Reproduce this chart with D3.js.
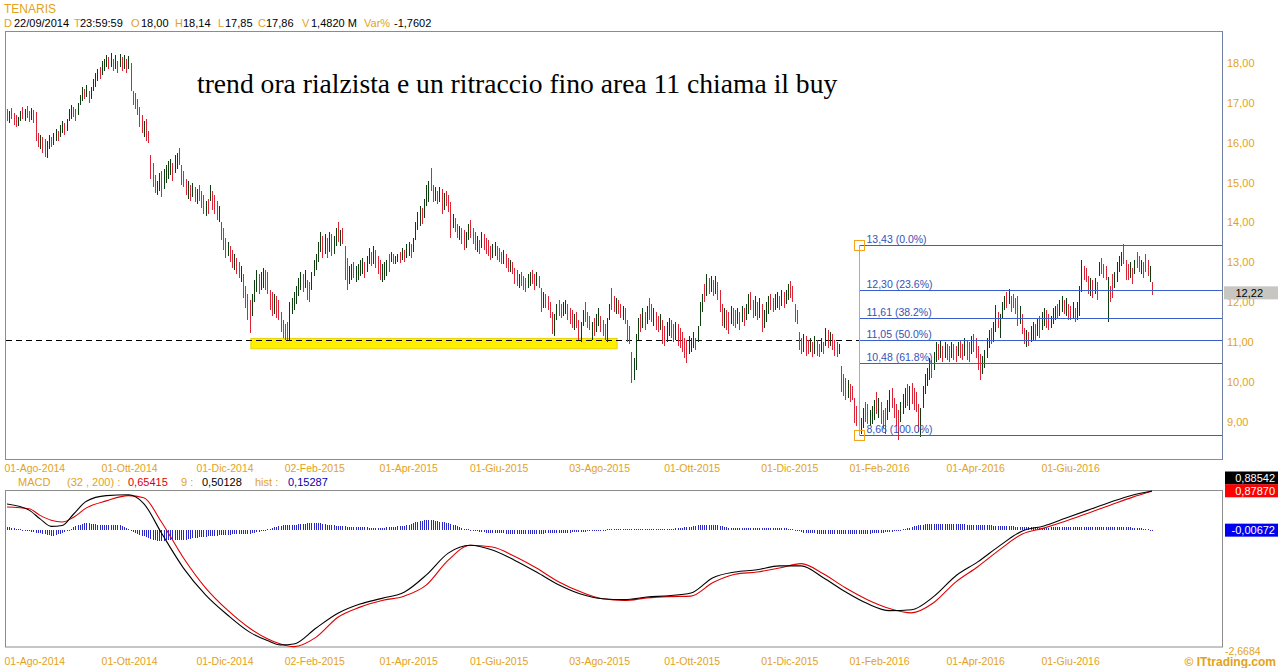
<!DOCTYPE html>
<html><head><meta charset="utf-8">
<script src="https://cdn.jsdelivr.net/npm/d3@7"></script>
<style>
body{margin:0;background:#fff;}
svg{display:block;font-family:"Liberation Sans",Arial,sans-serif;}
</style>
</head><body>
<svg id="c" width="1278" height="668"></svg>
<script>
// ---------------- DATA ----------------
const title = "TENARIS";
const hi = [
16.85,16.80,16.88,16.75,16.70,16.65,16.80,16.90,16.85,16.92,
16.80,16.88,16.82,16.78,16.25,16.20,16.15,16.10,16.05,16.20,
16.15,16.25,16.35,16.30,16.45,16.55,16.50,16.60,16.85,16.95,
16.90,16.85,17.00,17.20,17.40,17.35,17.45,17.30,17.40,17.60,
17.75,17.85,17.90,18.05,18.10,18.20,18.15,18.25,18.10,18.20,
18.05,18.22,18.15,18.20,18.10,18.18,18.00,17.30,17.25,17.10,
16.90,16.70,16.55,16.60,16.30,15.70,15.50,15.20,15.05,15.25,
15.30,15.35,15.45,15.55,15.60,15.50,15.70,15.75,15.87,15.45,
15.30,15.10,15.05,14.95,15.00,14.90,14.85,14.95,14.80,14.70,
14.55,14.60,14.95,14.80,14.70,14.55,14.40,14.00,13.85,13.60,
13.50,13.40,13.30,13.20,13.10,13.00,12.90,12.70,12.40,12.20,
12.05,12.20,12.55,12.80,12.70,12.75,12.85,12.80,12.75,12.30,
12.25,12.20,12.15,12.05,11.75,11.55,11.45,11.50,12.00,12.10,
12.25,12.40,12.60,12.75,12.70,12.80,12.55,12.50,12.75,13.05,
13.20,13.50,13.75,13.65,13.70,13.60,13.75,13.70,13.65,13.85,
14.00,13.80,13.85,13.40,13.10,12.90,12.95,13.00,12.90,12.95,
13.05,13.10,13.00,13.15,13.35,13.25,13.40,13.30,13.15,13.05,
12.95,13.00,13.05,13.20,13.25,13.20,13.15,13.20,13.25,13.35,
13.30,13.45,13.50,13.45,13.60,14.00,14.25,14.40,14.35,14.60,
14.95,15.05,15.37,14.95,14.90,14.80,14.90,14.85,14.75,14.80,
14.70,14.50,14.20,14.10,13.95,13.90,13.85,13.80,13.75,13.95,
14.05,13.85,13.75,13.65,13.55,13.75,13.70,13.60,13.55,13.40,
13.45,13.50,13.40,13.35,13.25,13.30,13.20,13.10,13.05,13.00,
12.85,12.80,12.70,12.75,12.65,12.60,12.70,12.75,12.80,12.70,
12.75,12.65,12.35,12.25,12.20,12.15,12.00,11.75,11.70,11.95,
12.05,11.95,12.00,12.05,11.95,11.85,11.80,11.70,11.75,11.55,
11.50,11.80,12.00,11.75,11.65,11.50,11.60,11.70,11.85,11.65,
11.55,11.45,11.60,11.95,12.35,12.15,12.10,12.05,11.95,11.90,
11.85,11.55,11.40,10.75,10.60,11.20,11.60,11.70,11.85,11.75,
11.90,12.10,11.95,11.85,11.75,11.65,11.70,11.55,11.40,11.50,
11.60,11.55,11.45,11.50,11.45,11.35,11.25,11.10,11.05,11.15,
11.10,11.25,11.10,11.40,12.00,12.20,12.45,12.70,12.60,12.65,
12.55,12.65,12.50,12.30,11.95,11.85,11.80,11.75,11.90,11.85,
11.80,11.85,11.75,11.90,11.85,11.95,12.20,12.25,12.05,12.15,
12.00,12.10,11.95,11.80,12.00,12.15,12.20,12.10,12.20,12.25,
12.15,12.30,12.25,12.30,12.45,12.53,12.40,11.95,11.80,11.25,
11.10,11.20,11.15,11.05,11.10,11.00,11.15,11.05,10.95,11.10,
11.00,11.35,11.30,11.25,11.20,11.05,11.00,10.95,10.40,10.20,
10.10,10.05,9.95,9.90,9.60,9.40,9.20,9.10,9.35,9.50,
9.45,9.30,9.40,9.55,9.75,9.60,9.50,9.30,9.35,9.55,
9.80,9.85,9.60,9.45,9.30,9.50,9.70,9.85,9.95,9.90,
9.97,9.85,9.75,9.45,9.35,9.90,10.20,10.35,10.60,10.55,
10.75,11.00,10.95,11.05,10.90,11.00,10.95,10.90,11.00,10.95,
10.90,11.00,11.05,10.95,11.10,11.05,11.00,11.15,11.20,11.10,
10.90,10.70,10.65,10.80,11.10,11.30,11.35,11.50,11.92,11.75,
11.70,12.00,12.15,12.25,12.33,12.15,12.20,12.10,12.15,11.90,
11.70,11.35,11.30,11.25,11.40,11.50,11.45,11.60,11.65,11.75,
11.85,11.80,11.70,11.65,11.85,11.90,11.95,12.05,12.15,12.05,
12.10,11.95,11.90,12.00,11.85,12.00,12.40,13.05,12.90,12.85,
12.65,12.60,12.55,12.60,12.50,13.00,13.10,12.95,12.90,12.63,
12.40,12.70,12.75,13.00,13.15,13.25,13.45,13.05,12.95,13.00,
12.85,13.05,13.25,13.15,13.05,13.00,13.20,13.05,12.90,12.50];
const lo = [
16.55,16.50,16.60,16.45,16.40,16.42,16.55,16.60,16.55,16.62,
16.52,16.58,16.50,16.05,15.90,15.85,15.75,15.65,15.62,15.85,
15.88,15.95,16.05,16.05,16.15,16.25,16.20,16.30,16.55,16.60,
16.65,16.55,16.70,16.95,17.05,17.10,17.15,17.00,17.10,17.30,
17.40,17.55,17.60,17.70,17.80,17.90,17.85,17.90,17.80,17.85,
17.75,17.90,17.80,17.85,17.75,17.85,17.30,16.95,16.85,16.70,
16.40,16.25,16.15,16.05,16.00,15.10,14.90,14.75,14.68,14.80,
14.65,14.85,15.00,15.10,15.20,15.05,15.25,15.35,15.45,14.95,
14.90,14.70,14.60,14.55,14.65,14.50,14.45,14.55,14.35,14.20,
14.15,14.20,14.55,14.30,14.20,14.05,14.00,13.55,13.30,13.10,
13.15,13.00,12.85,12.80,12.70,12.60,12.50,12.10,11.85,11.55,
11.22,11.65,12.00,12.25,12.20,12.30,12.35,12.30,12.20,11.80,
11.65,11.70,11.60,11.55,11.25,11.10,11.05,11.05,11.05,11.70,
11.80,11.95,12.15,12.30,12.25,12.35,12.05,12.00,12.30,12.65,
12.80,13.00,13.25,13.10,13.20,13.10,13.25,13.15,13.20,13.40,
13.50,13.40,13.45,12.55,12.30,12.45,12.55,12.60,12.50,12.55,
12.65,12.70,12.60,12.75,12.95,12.90,12.95,12.85,12.70,12.55,
12.50,12.55,12.65,12.75,13.00,12.95,12.95,13.00,12.98,13.05,
13.00,13.10,13.15,13.10,13.25,13.55,13.80,13.90,13.95,14.10,
14.40,14.50,14.80,14.50,14.55,14.45,14.50,14.20,14.30,14.40,
14.25,13.60,13.85,13.75,13.60,13.55,13.45,13.30,13.35,13.55,
13.60,13.45,13.30,13.25,13.20,13.35,13.30,13.20,13.15,13.05,
13.10,13.15,13.05,13.00,12.95,12.95,12.85,12.75,12.75,12.70,
12.45,12.40,12.35,12.40,12.30,12.25,12.35,12.40,12.45,12.30,
12.40,12.35,11.75,11.85,11.85,11.80,11.60,11.20,11.15,11.55,
11.65,11.60,11.65,11.70,11.55,11.45,11.35,11.30,11.35,11.05,
11.00,11.40,11.50,11.35,11.30,11.05,11.15,11.25,11.40,11.25,
11.15,11.05,11.00,11.55,11.80,11.75,11.70,11.70,11.60,11.55,
11.45,11.00,10.95,9.97,10.05,10.30,11.05,11.25,11.35,11.30,
11.45,11.55,11.50,11.40,11.30,11.25,11.30,10.95,10.90,11.00,
11.15,11.10,11.00,11.05,10.90,10.85,10.75,10.60,10.48,10.70,
10.75,10.85,10.80,11.00,11.40,11.75,12.00,12.15,12.20,12.25,
12.15,12.20,12.05,11.75,11.40,11.35,11.30,11.20,11.45,11.40,
11.35,11.45,11.30,11.50,11.40,11.55,11.70,11.80,11.60,11.65,
11.55,11.60,11.25,11.35,11.50,11.70,11.80,11.75,11.80,11.85,
11.80,11.90,11.85,11.95,12.05,12.10,12.00,11.50,11.45,10.80,
10.70,10.75,10.65,10.70,10.75,10.62,10.70,10.65,10.62,10.75,
10.70,10.90,10.85,10.90,10.80,10.65,10.62,10.70,9.75,9.65,
9.55,9.60,9.50,9.55,8.97,8.90,8.66,8.70,8.85,9.00,
8.95,8.90,8.95,9.05,9.20,9.10,8.95,8.85,8.70,9.05,
9.25,9.35,9.10,8.90,8.55,9.00,9.20,9.35,9.40,9.30,
9.45,9.30,9.25,8.75,8.62,9.35,9.70,9.90,10.05,10.10,
10.30,10.50,10.55,10.60,10.50,10.60,10.55,10.50,10.60,10.55,
10.50,10.65,10.60,10.55,10.65,10.55,10.50,10.70,10.75,10.60,
10.30,10.05,10.20,10.35,10.60,10.85,10.95,11.00,11.25,11.35,
11.10,11.60,11.80,11.85,11.95,11.75,11.85,11.70,11.40,11.45,
11.20,10.95,10.87,10.90,11.00,11.05,11.05,11.15,11.10,11.30,
11.40,11.35,11.30,11.35,11.45,11.55,11.60,11.65,11.75,11.70,
11.65,11.55,11.55,11.60,11.50,11.55,11.65,12.25,12.55,12.50,
12.20,12.15,12.10,12.20,12.05,12.65,12.70,12.60,12.55,11.50,
12.00,12.10,12.35,12.50,12.75,12.90,12.95,12.55,12.55,12.60,
12.45,12.70,12.85,12.75,12.70,12.60,12.75,12.65,12.50,12.18];
// 1 = up bar (close above open), 0 = down bar
const up = [
0,1,0,0,0,1,1,0,1,0, 0,1,0,0,0,1,0,0,1,1, 0,1,1,0,1,1,0,1,1,1, 0,0,1,1,1,0,1,0,1,1,
1,1,0,1,1,1,0,1,0,1, 0,1,0,1,0,1,0,0,0,0, 0,0,1,0,0,0,0,0,1,1, 0,1,1,1,1,0,1,1,0,0,
0,0,1,0,1,0,1,0,0,0, 1,0,1,0,0,0,1,0,0,0, 1,0,0,1,0,0,1,0,0,0, 0,1,1,1,0,1,1,0,0,0,
0,1,0,0,0,0,0,0,1,1, 1,1,1,1,0,1,0,0,1,1, 1,1,1,0,1,0,1,0,1,1, 0,1,0,0,0,1,1,0,1,1,
1,1,0,1,1,0,1,0,0,0, 1,1,1,0,1,0,1,1,0,1, 0,1,1,0,1,1,1,1,0,1, 1,1,0,0,1,0,1,0,1,0,
0,0,1,0,0,1,0,0,1,1, 0,0,0,1,0,1,0,0,0,0, 1,1,0,0,0,1,0,0,1,0, 0,0,1,0,0,0,1,1,0,0,
1,0,0,1,0,0,0,0,1,1, 0,0,1,1,0,0,0,1,0,0, 1,1,0,0,0,1,0,1,1,0, 0,0,1,1,0,0,1,0,0,1,
0,0,0,0,1,1,1,0,1,0, 1,0,0,1,0,0,1,0,0,1, 1,0,0,1,0,0,0,0,0,1, 1,1,0,1,1,1,0,1,0,1,
0,1,0,0,0,1,0,0,1,0, 0,1,0,1,0,1,1,0,0,1, 0,1,0,1,1,1,0,0,1,1, 0,1,0,1,1,0,0,0,0,0,
0,1,0,0,1,0,1,0,0,1, 0,1,0,1,0,0,0,1,0,0, 0,1,0,0,0,0,0,1,1,0, 0,1,1,1,0,1,0,0,0,1,
1,0,0,0,0,1,1,1,0,1, 0,0,0,0,1,1,1,1,1,0, 1,1,0,1,0,1,0,0,1,0, 0,1,0,0,1,0,0,1,0,0,
0,0,1,1,1,1,0,1,1,0, 1,1,1,0,1,0,0,0,0,1, 0,0,1,0,1,1,0,1,0,1, 1,0,0,1,1,1,0,1,1,0,
1,0,0,1,0,1,1,1,0,0, 0,1,0,1,0,1,0,0,0,1, 0,0,1,1,1,1,0,0,0,1, 0,1,0,0,1,0,0,0,1,0];

const xTickIdx = [0,44,87,127,170,211,256,299,343,383,427,470];
const xTickLabels = ["01-Ago-2014","01-Ott-2014","01-Dic-2014","02-Feb-2015","01-Apr-2015","01-Giu-2015",
  "03-Ago-2015","01-Ott-2015","01-Dic-2015","01-Feb-2016","01-Apr-2016","01-Giu-2016"];
const yTicks = [9,10,11,12,13,14,15,16,17,18];

const fibLevels = [13.43,12.30,11.61,11.05,10.48,8.66];
const fibPct = ["0.0%","23.6%","38.2%","50.0%","61.8%","100.0%"];
const fibStartIdx = [386];
const supportLevel = [11.05];
const zoneIdx = [111,277];
const zoneVals = [11.09,10.83];
const lastPrice = [12.22];

const macdIdx = [0,10,15,20,25,30,36,45,55,62,70,80,90,100,110,118,124,130,140,150,160,170,180,190,200,210,220,230,240,250,260,270,280,290,300,310,320,330,340,350,360,370,380,390,400,410,420,430,440,450,460,470,480,490,500,510,519];
const macdVals = [0.59,0.45,0.25,0.08,0.10,0.35,0.654,0.78,0.80,0.60,-0.07,-0.87,-1.48,-1.94,-2.33,-2.52,-2.62,-2.60,-2.24,-1.90,-1.69,-1.56,-1.42,-1.03,-0.53,-0.35,-0.46,-0.69,-0.96,-1.25,-1.46,-1.57,-1.59,-1.53,-1.50,-1.44,-1.09,-0.96,-0.91,-0.82,-0.82,-1.09,-1.41,-1.68,-1.84,-1.82,-1.52,-1.05,-0.73,-0.36,-0.03,0.09,0.27,0.45,0.63,0.79,0.88542];
const signalVals = [0.52,0.48,0.33,0.22,0.18,0.28,0.501,0.66,0.78,0.73,0.18,-0.64,-1.32,-1.83,-2.24,-2.48,-2.60,-2.66,-2.45,-1.99,-1.76,-1.61,-1.51,-1.26,-0.69,-0.35,-0.39,-0.60,-0.87,-1.18,-1.41,-1.57,-1.61,-1.55,-1.52,-1.51,-1.20,-1.01,-0.96,-0.87,-0.77,-1.00,-1.32,-1.59,-1.79,-1.89,-1.66,-1.19,-0.84,-0.45,-0.10,0.04,0.20,0.38,0.56,0.74,0.8787];
const hist = [
.07,.06,.05,.04,.03,.02,.01,0,-.01,-.02,-.03,-.04,-.05,-.06,-.07,-.08,-.09,-.10,-.11,-.12,
-.13,-.13,-.12,-.10,-.09,-.08,-.05,-.03,0,.03,.06,.08,.10,.12,.14,.15,.15,.15,.14,.14,
.13,.12,.12,.12,.11,.11,.12,.12,.11,.11,.11,.10,.09,.07,.05,.02,-.02,-.04,-.07,-.09,
-.11,-.13,-.15,-.17,-.19,-.21,-.23,-.24,-.25,-.25,-.25,-.25,-.24,-.24,-.24,-.23,-.23,-.23,-.23,-.23,
-.23,-.22,-.21,-.20,-.19,-.18,-.18,-.17,-.17,-.16,-.16,-.15,-.14,-.14,-.13,-.13,-.12,-.12,-.11,-.11,
-.11,-.11,-.10,-.10,-.10,-.10,-.09,-.09,-.09,-.09,-.09,-.08,-.07,-.05,-.04,-.03,-.01,0,.02,.03,
.05,.06,.07,.08,.09,.10,.11,.11,.11,.11,.11,.12,.13,.13,.14,.14,.15,.15,.16,.16,
.16,.15,.15,.14,.13,.12,.11,.10,.10,.09,.09,.08,.08,.08,.07,.07,.07,.07,.07,.07,
.07,.06,.06,.06,.05,.05,.05,.05,.05,.05,.05,.05,.06,.06,.06,.07,.07,.08,.08,.09,
.09,.10,.11,.13,.15,.17,.19,.20,.21,.22,.23,.23,.23,.22,.21,.20,.19,.18,.17,.16,
.16,.14,.12,.10,.08,.06,.05,.03,.02,.01,0,-.01,-.02,-.03,-.04,-.05,-.05,-.06,-.06,-.07,
-.07,-.07,-.08,-.08,-.08,-.08,-.09,-.09,-.09,-.09,-.09,-.09,-.09,-.09,-.09,-.09,-.09,-.09,-.09,-.09,
-.09,-.09,-.09,-.09,-.08,-.08,-.08,-.08,-.07,-.07,-.07,-.07,-.06,-.06,-.06,-.06,-.05,-.05,-.05,-.05,
-.05,-.04,-.04,-.03,-.03,-.02,-.02,-.01,-.01,0,0,0,.01,.01,.01,.01,.02,.02,.02,.02,
.02,.02,.02,.02,.01,.01,.01,.02,.02,.02,.02,.02,.02,.02,.02,.02,.02,.02,.02,.02,
.02,.03,.03,.04,.04,.05,.05,.06,.06,.07,.07,.08,.09,.10,.10,.11,.11,.11,.11,.11,
.11,.10,.10,.09,.08,.07,.06,.05,.05,.05,.05,.05,.05,.05,.05,.05,.05,.05,.05,.05,
.05,.05,.05,.05,.05,.05,.05,.05,.05,.05,.05,.05,.04,.04,.03,.02,.01,0,-.01,-.03,
-.05,-.06,-.06,-.07,-.07,-.08,-.08,-.09,-.09,-.09,-.09,-.09,-.09,-.09,-.09,-.09,-.09,-.09,-.09,-.09,
-.09,-.09,-.09,-.09,-.09,-.09,-.09,-.09,-.09,-.09,-.09,-.09,-.08,-.08,-.07,-.07,-.06,-.06,-.05,-.05,
-.05,-.04,-.03,-.02,-.01,0,.01,.02,.04,.05,.07,.08,.09,.10,.11,.12,.13,.13,.14,.14,
.14,.14,.14,.14,.14,.14,.14,.14,.14,.14,.14,.14,.13,.13,.13,.12,.12,.12,.11,.11,
.11,.11,.10,.10,.10,.10,.10,.09,.09,.09,.09,.09,.08,.08,.08,.08,.08,.07,.07,.07,
.07,.07,.07,.06,.06,.06,.06,.05,.05,.05,.05,.05,.05,.06,.06,.06,.06,.07,.07,.07,
.07,.07,.07,.07,.07,.07,.07,.07,.07,.07,.07,.07,.07,.07,.07,.07,.07,.07,.07,.07,
.07,.07,.07,.07,.07,.06,.06,.06,.06,.06,.05,.05,.05,.04,.04,.03,.02,.01,0,-.01];
const macdRange = [-2.6684, 0.88542];
const macdLast = [0.88542, 0.87870, -0.00672];

// ---------------- DRAW ----------------
const ORANGE = "#e3a21a", RED = "#dc2436", GREEN = "#0e3d10", BLUE = "#3a5fcd";
const svg = d3.select("#c");
const N = hi.length;
const x = d3.scaleLinear().domain([0, 519]).range([7, 1152]);
const y = d3.scaleLinear().domain([9, 18]).range([421.7, 63]);
const yM = d3.scaleLinear().domain(macdRange).range([647, 491]);
const fmt = v => v.toFixed(2).replace(".", ",");

// header
svg.append("text").attr("x", 4).attr("y", 13).attr("font-size", 12).attr("fill", ORANGE).text(title);
const hdr = svg.append("text").attr("y", 27).attr("font-size", 11);
[["D",4,ORANGE],["22/09/2014",14,"#000"],["T",74,ORANGE],["23:59:59",80,"#000"],["O",131,ORANGE],["18,00",141,"#000"],
 ["H",175,ORANGE],["18,14",183,"#000"],["L",218,ORANGE],["17,85",225,"#000"],["C",258,ORANGE],["17,86",266,"#000"],
 ["V",302,ORANGE],["1,4820 M",311,"#000"],["Var%",364,ORANGE],["-1,7602",394,"#000"]].forEach(d => {
  hdr.append("tspan").attr("x", d[1]).attr("fill", d[2]).text(d[0]);
});

// panels
svg.append("rect").attr("x", 5.5).attr("y", 31.5).attr("width", 1217).attr("height", 428).attr("fill", "none").attr("stroke", "#8c8c8c");
svg.append("rect").attr("x", 5.5).attr("y", 490.5).attr("width", 1217).attr("height", 156.5).attr("fill", "none").attr("stroke", "#8c8c8c");

// yellow support zone
svg.append("rect").attr("x", x(zoneIdx[0]) - 1).attr("y", y(zoneVals[0]))
  .attr("width", x(zoneIdx[1]) - x(zoneIdx[0])).attr("height", y(zoneVals[1]) - y(zoneVals[0]))
  .attr("fill", "#ffee00").attr("stroke", "#e6d200").attr("stroke-width", 1);

// dashed support line
const sy = Math.round(y(supportLevel[0])) + 0.5;
svg.append("line").attr("x1", 6).attr("x2", 1222).attr("y1", sy).attr("y2", sy)
  .attr("stroke", "#000").attr("stroke-dasharray", "6,4");

// bars
svg.append("g").selectAll("rect").data(d3.range(N)).join("rect")
  .attr("x", i => Math.round(x(i)))
  .attr("y", i => y(hi[i]))
  .attr("width", 1)
  .attr("height", i => Math.max(1, y(lo[i]) - y(hi[i])))
  .attr("fill", i => up[i] ? GREEN : RED)
  .attr("shape-rendering", "crispEdges");

// fibonacci
const fx = Math.round(x(fibStartIdx[0])) + 0.5;
const fg = svg.append("g");
fg.selectAll("line").data(fibLevels).join("line")
  .attr("x1", fx).attr("x2", 1222).attr("y1", d => Math.round(y(d)) + 0.5).attr("y2", d => Math.round(y(d)) + 0.5)
  .attr("stroke", BLUE).attr("stroke-width", 1);
fg.selectAll("text").data(fibLevels).join("text")
  .attr("x", fx + 7).attr("y", d => Math.round(y(d)) - 2).attr("font-size", 10.5).attr("fill", "#3552b5")
  .text((d, i) => fmt(d) + " (" + fibPct[i] + ")");
fg.append("line").attr("x1", fx).attr("x2", fx).attr("y1", y(fibLevels[0])).attr("y2", y(fibLevels[5]))
  .attr("stroke", "#f2a51c").attr("stroke-width", 1);
[fibLevels[0], fibLevels[5]].forEach(v => {
  fg.append("rect").attr("x", fx - 5).attr("y", Math.round(y(v)) - 4.5).attr("width", 10).attr("height", 10)
    .attr("fill", "none").attr("stroke", "#f2a51c");
});

// annotation
svg.append("text").attr("x", 197).attr("y", 93).attr("font-family", "'Liberation Serif','Times New Roman',serif")
  .attr("font-size", 27.6).attr("fill", "#000").text("trend ora rialzista e un ritraccio fino area 11 chiama il buy");

// y axis (price)
const yAxis = svg.append("g").attr("transform", "translate(1222,0)")
  .call(d3.axisRight(y).tickValues(yTicks).tickSize(0).tickPadding(5).tickFormat(fmt));
yAxis.select(".domain").attr("stroke", "#6f7fa0").attr("d", "M0.5,31V460");
yAxis.selectAll("text").attr("fill", ORANGE).attr("font-size", 11).attr("font-family", "'Liberation Sans',Arial,sans-serif");

// last price box
const ly = y(lastPrice[0]);
svg.append("rect").attr("x", 1224).attr("y", ly - 7).attr("width", 54).attr("height", 13).attr("fill", "#c8c6c0");
svg.append("text").attr("x", 1263).attr("y", ly + 3.5).attr("text-anchor", "end").attr("font-size", 11).attr("fill", "#000").text(fmt(lastPrice[0]));

// x axes
function xAxisAt(yy) {
  const g = svg.append("g").attr("transform", `translate(0,${yy})`)
    .call(d3.axisBottom(x).tickValues(xTickIdx).tickSize(0).tickPadding(0).tickFormat((d, i) => xTickLabels[i]));
  g.select(".domain").remove();
  g.selectAll("text").attr("text-anchor", "start").attr("dx", -3).attr("fill", ORANGE)
    .attr("font-size", 10.5).attr("font-family", "'Liberation Sans',Arial,sans-serif");
}
xAxisAt(465);
xAxisAt(658);

// MACD header
const mh = svg.append("text").attr("y", 486).attr("font-size", 11);
[["MACD",18,ORANGE],["(32 , 200) :",67,ORANGE],["0,65415",128,"#e00000"],["9 :",181,ORANGE],["0,50128",202,"#000"],
 ["hist :",255,ORANGE],["0,15287",288,"#0000b0"]].forEach(d => {
  mh.append("tspan").attr("x", d[1]).attr("fill", d[2]).text(d[0]);
});

// histogram
svg.append("g").selectAll("rect").data(d3.range(hist.length)).join("rect")
  .attr("x", i => Math.round(x(i)))
  .attr("y", i => Math.min(yM(0), yM(hist[i])))
  .attr("width", 1)
  .attr("height", i => Math.max(1, Math.abs(yM(hist[i]) - yM(0))))
  .attr("fill", "#2828c8").attr("shape-rendering", "crispEdges");

// MACD and signal lines
const mline = d3.line().x(d => x(d[0])).y(d => yM(d[1])).curve(d3.curveMonotoneX);
svg.append("path").datum(macdIdx.map((d, i) => [d, signalVals[i]])).attr("d", mline)
  .attr("fill", "none").attr("stroke", "#e00000").attr("stroke-width", 1.1);
svg.append("path").datum(macdIdx.map((d, i) => [d, macdVals[i]])).attr("d", mline)
  .attr("fill", "none").attr("stroke", "#000").attr("stroke-width", 1.1);

// MACD right labels
const fmt5 = v => v.toFixed(5).replace(".", ",");
const boxes = [[macdLast[0], yM(macdLast[0]) - 13, "#000"], [macdLast[1], yM(macdLast[1]) - 0.5, "#ff0000"], [macdLast[2], yM(macdLast[2]), "#0000ee"]];
boxes.forEach(b => {
  svg.append("rect").attr("x", 1225).attr("y", b[1] - 6.5).attr("width", 53).attr("height", 13).attr("fill", b[2]);
  svg.append("text").attr("x", 1275).attr("y", b[1] + 4).attr("text-anchor", "end").attr("font-size", 11).attr("fill", "#fff").text(fmt5(b[0]));
});
svg.append("text").attr("x", 1225).attr("y", 655).attr("font-size", 10.5).attr("fill", ORANGE).text(String(macdRange[0]).replace(".", ","));
svg.append("text").attr("x", 1276).attr("y", 666).attr("text-anchor", "end").attr("font-size", 12).attr("font-weight", "bold")
  .attr("fill", ORANGE).text("© ITtrading.com");
</script>
</body></html>
